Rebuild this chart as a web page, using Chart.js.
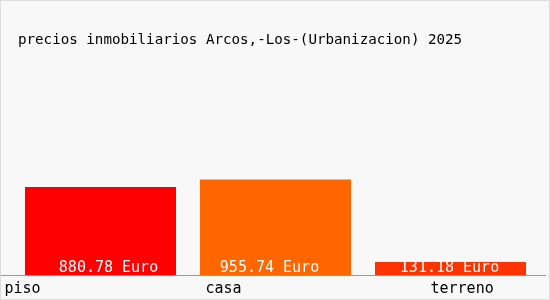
<!DOCTYPE html>
<html>
<head>
<meta charset="utf-8">
<script src="https://cdn.jsdelivr.net/npm/chart.js@4/dist/chart.umd.min.js"></script>
<style>
  html, body { margin: 0; padding: 0; background: #fff; }
  #wrap { width: 550px; height: 300px; position: relative; }
</style>
</head>
<body>
<div id="wrap"><canvas id="chart" width="550" height="300"></canvas></div>
<script>
// data
const chartTitle = 'precios inmobiliarios Arcos,-Los-(Urbanizacion) 2025';
const categories = ['piso', 'casa', 'terreno'];
const prices = [880.78, 955.74, 131.18];
const priceLabels = ['880.78 Euro', '955.74 Euro', '131.18 Euro'];
const barColors = ['#ff0000', '#ff6600', '#ff3300'];

const MONO = '"DejaVu Sans Mono", "Liberation Mono", monospace';

// background, frame, title, base line and labels
const decorations = {
	id: 'decorations',
	beforeDraw(chart) {
		const c = chart.ctx;
		c.save();
		c.fillStyle = '#f8f8f8';
		c.fillRect(0, 0, chart.width, chart.height);
		c.strokeStyle = '#dddddd';
		c.lineWidth = 1;
		c.strokeRect(0.5, 0.5, chart.width - 1, chart.height - 1);
		c.fillStyle = '#000';
		c.font = '14.2px ' + MONO;
		c.textBaseline = 'middle';
		c.textAlign = 'left';
		c.fillText(chartTitle, 18, 40);
		c.restore();
	},
	afterDatasetsDraw(chart) {
		const c = chart.ctx;
		const y = chart.scales.y;
		const x = chart.scales.x;
		const base = Math.round(y.getPixelForValue(0)) + 0.5;
		c.save();
		c.strokeStyle = '#999999';
		c.lineWidth = 1;
		c.beginPath();
		c.moveTo(1, base);
		c.lineTo(chart.width - 4, base);
		c.stroke();

		// value labels inside the bars
		const valueShift = [8, -6, -1];
		c.font = '15px ' + MONO;
		c.fillStyle = '#ffffff';
		c.textAlign = 'center';
		c.textBaseline = 'middle';
		const meta = chart.getDatasetMeta(0);
		meta.data.forEach((bar, i) => {
			c.fillText(priceLabels[i], bar.x + valueShift[i], base - 7);
		});

		// category labels under the axis
		const labelShift = [-96, -70, -20];
		c.fillStyle = '#000';
		c.textAlign = 'left';
		categories.forEach((name, i) => {
			c.fillText(name, x.getPixelForValue(i) + labelShift[i], base + 14);
		});
		c.restore();
	}
};

const ctx = document.getElementById('chart').getContext('2d');
const chart = new Chart(ctx, {
	type: 'bar',
	data: {
		labels: categories,
		datasets: [{
			data: prices,
			backgroundColor: barColors,
			borderWidth: 0,
			barPercentage: 0.863,
			categoryPercentage: 1
		}]
	},
	options: {
		responsive: false,
		animation: false,
		layout: { padding: { left: 13, right: 12, top: 75, bottom: 25 } },
		plugins: {
			legend: { display: false },
			tooltip: { enabled: false },
			title: { display: false }
		},
		scales: {
			x: {
				display: false,
				grid: { display: false }
			},
			y: {
				display: false,
				min: 0,
				max: 2000,
				grid: { display: false }
			}
		}
	},
	plugins: [decorations]
});
</script>
</body>
</html>
